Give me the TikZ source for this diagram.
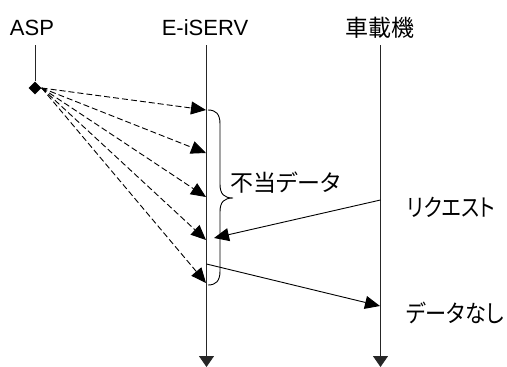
\documentclass[tikz,border=0pt]{standalone}
\usepackage{fontspec}
\setmainfont{Liberation Sans}
\newfontfamily\jpfont[RawFeature=+palt]{Noto Sans CJK JP}
\usetikzlibrary{arrows.meta,shapes.geometric}
\begin{document}
\begin{tikzpicture}[x=1pt,y=-1pt,
  lbl/.style={inner sep=0pt,font=\fontsize{22}{22}\selectfont},
  jlbl/.style={inner sep=0pt,font=\jpfont\fontsize{24}{24}\selectfont},
  life/.style={line width=1pt,draw=black!85},
  msg/.style={line width=0.9pt,-{Triangle[length=15pt,width=13pt]}},
  dmsg/.style={msg,dash pattern=on 6pt off 3pt},
  tip/.style={-{Triangle[length=11pt,width=15pt]}}]
\useasboundingbox (0,0) rectangle (507,367);
% headers
\node[lbl] (asp) at (32,28) {ASP};
\node[lbl] (eis) at (205,28) {E-iSERV};
\node[jlbl,font=\jpfont\fontsize{23}{23}\selectfont] (car) at (380,28) {車載機};
% lifelines
\coordinate (aspTop) at (35,45);
\node[diamond,fill=black,inner sep=0pt,minimum size=13pt] (dia) at (35,88) {};
\draw[life] (aspTop) -- (dia);
\coordinate (eTop) at (206.5,45);
\coordinate (eBot) at (206.5,367);
\coordinate (cTop) at (380.5,45);
\coordinate (cBot) at (380.5,367);
\draw[life,tip] (eTop) -- (eBot);
\draw[life,tip] (cTop) -- (cBot);
% dashed messages
\coordinate (d1) at (206,110);
\coordinate (d2) at (206,153);
\coordinate (d3) at (206,197);
\coordinate (d4) at (206,240);
\coordinate (d5) at (206,283);
\foreach \t in {d1,d2,d3,d4,d5}
  \draw[dmsg] (dia.east) -- (\t);
% brace
\coordinate (bTop) at (208,110);
\coordinate (bTip) at (233,198);
\coordinate (bBot) at (208,285);
\draw[line width=0.9pt] (bTop) .. controls (216,110) and (220,114) .. (220,124)
  -- (220,184) .. controls (220,194) and (224,198) .. (bTip)
  .. controls (224,198) and (220,202) .. (220,212)
  -- (220,271) .. controls (220,281) and (216,285) .. (bBot);
\node[jlbl,anchor=west,font=\jpfont\fontsize{23}{23}\selectfont] (bad) at (230,183) {不当データ};
% request
\coordinate (r1) at (380.5,200);
\coordinate (r2) at (214,238);
\draw[msg] (r1) -- (r2);
\node[jlbl,anchor=west] (req) at (407,207) {\scalebox{0.84}[1]{リクエスト}};
% no data
\coordinate (n1) at (206.5,264);
\coordinate (n2) at (380,306);
\draw[msg] (n1) -- (n2);
\node[jlbl,anchor=west] (nod) at (406,313) {\scalebox{0.88}[1]{データなし}};
\end{tikzpicture}
\end{document}
